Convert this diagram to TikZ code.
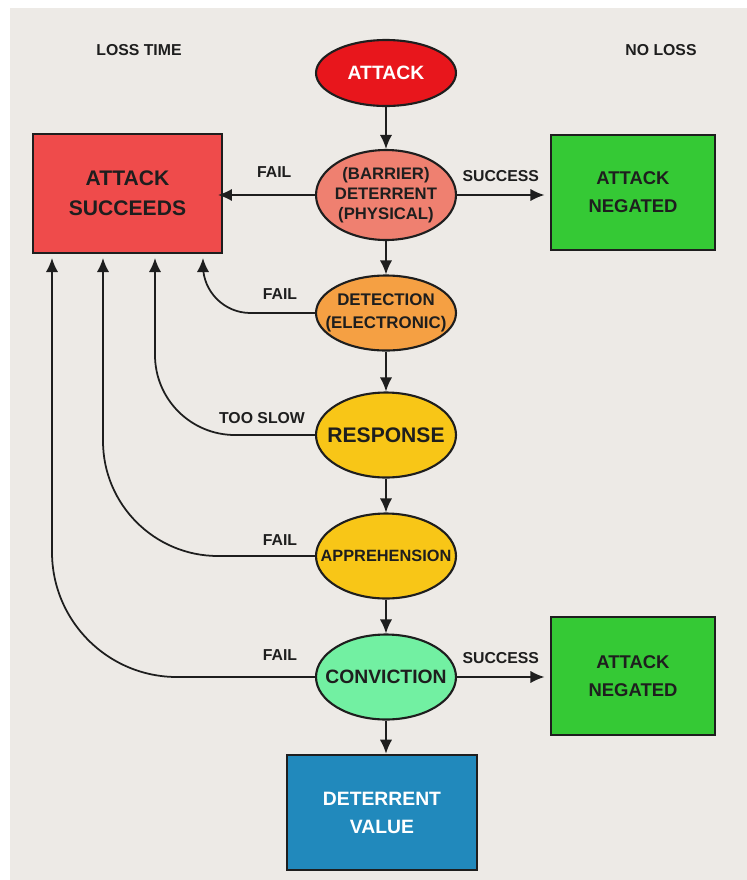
\documentclass[tikz,border=0pt]{standalone}
\usepackage{fontspec}
\setmainfont{Liberation Sans}
\usepackage{xcolor}
\usetikzlibrary{shapes.geometric, arrows.meta, positioning}

\definecolor{bggray}{HTML}{EDEAE6}
\definecolor{attackred}{HTML}{E8161C}
\definecolor{succred}{HTML}{EF4B4B}
\definecolor{barrier}{HTML}{EF8070}
\definecolor{detect}{HTML}{F5A043}
\definecolor{gold}{HTML}{F8C617}
\definecolor{mint}{HTML}{72F0A2}
\definecolor{negated}{HTML}{35C935}
\definecolor{deterblue}{HTML}{2189BC}
\definecolor{ink}{HTML}{1E1E1E}

\begin{document}
\begin{tikzpicture}[
            x=0.02cm, y=-0.02cm,
            stage/.style={ellipse, draw=ink, line width=1.2pt, minimum width=2.8cm,
                minimum height=1.7cm, inner sep=-1cm, align=center, text=ink,
                font=\bfseries},
            outcome/.style={rectangle, draw=ink, line width=1.4pt, align=center,
                text=ink, font=\bfseries},
            flow/.style={-{Latex[length=8pt, width=7pt]}, line width=1pt, draw=ink},
            side/.style={font=\bfseries\fontsize{9}{10}\selectfont, text=ink}
        ]

        % background and margins
        \fill[white] (0,0) rectangle (747,880);
        \fill[bggray] (10,8) rectangle (747,880);
        \useasboundingbox (0,0) rectangle (747,880);

        % headings
        \node[side] (losstime) at (139,50) {LOSS TIME};
        \node[side] (noloss) at (661,50) {NO LOSS};

        % stages (manual layout)
        \node[stage, fill=attackred, text=white, minimum height=1.32cm,
            font=\bfseries\fontsize{11}{12}\selectfont] (attack) at (386,73) {ATTACK};
        \node[stage, fill=barrier, font=\bfseries\fontsize{9.5}{11.5}\selectfont,
            minimum height=1.8cm] (barrier) at (386,195)
            {(BARRIER)\\DETERRENT\\(PHYSICAL)};
        \node[stage, fill=detect, minimum height=1.5cm,
            font=\bfseries\fontsize{9.6}{13}\selectfont] (detection) at (386,313)
            {DETECTION\\(ELECTRONIC)};
        \node[stage, fill=gold, font=\bfseries\fontsize{12}{14}\selectfont]
            (response) at (386,435) {RESPONSE};
        \node[stage, fill=gold, font=\bfseries\fontsize{9.3}{11}\selectfont]
            (apprehension) at (386,556) {APPREHENSION};
        \node[stage, fill=mint, font=\bfseries\fontsize{11}{13}\selectfont]
            (conviction) at (386,677) {CONVICTION};

        % outcomes
        \node[outcome, fill=succred, minimum width=3.78cm, minimum height=2.38cm,
            font=\bfseries\fontsize{12}{17}\selectfont] (succeeds) at (127.5,193.5)
            {ATTACK\\SUCCEEDS};
        \node[outcome, fill=negated, minimum width=3.28cm, minimum height=2.3cm,
            font=\bfseries\fontsize{10.5}{16}\selectfont] (negtop) at (633,192.5)
            {ATTACK\\NEGATED};
        \node[outcome, fill=negated, minimum width=3.28cm, minimum height=2.36cm,
            font=\bfseries\fontsize{10.5}{16}\selectfont] (negbot) at (633,676)
            {ATTACK\\NEGATED};
        \node[outcome, fill=deterblue, text=white, minimum width=3.8cm,
            minimum height=2.3cm, font=\bfseries\fontsize{11}{16}\selectfont]
            (detervalue) at (382,812.5) {DETERRENT\\VALUE};

        % free ends under the red box
        \coordinate (in1) at (203,258);
        \coordinate (in2) at (155,258);
        \coordinate (in3) at (103,258);
        \coordinate (in4) at (52,258);

        % main chain
        \draw[flow] (attack) -- (barrier);
        \draw[flow] (barrier) -- (detection);
        \draw[flow] (detection) -- (response);
        \draw[flow] (response) -- (apprehension);
        \draw[flow] (apprehension) -- (conviction);
        \draw[flow] (conviction.south) -- (conviction.south |- detervalue.north);

        % success / fail branches
        \draw[flow] (barrier.east) -- node[side, above=4pt, pos=0.5] {SUCCESS}
            ([xshift=-3pt]negtop.west |- barrier.east);
        \draw[flow] (conviction.east) -- node[side, above=4pt, pos=0.5] {SUCCESS}
            ([xshift=-3pt]negbot.west |- conviction.east);
        \draw[flow] (barrier.west) -- node[side, above=6pt, pos=0.42] {FAIL}
            ([xshift=-3pt]succeeds.east |- barrier.west);

        \draw[flow, rounded corners=0.95cm] (detection.west) -| (in1);
        \draw[flow, rounded corners=1.6cm] (response.west) -| (in2);
        \draw[flow, rounded corners=2.3cm] (apprehension.west) -| (in3);
        \draw[flow, rounded corners=2.5cm] (conviction.west) -| (in4);

        % branch labels
        \node[side] (fail2) at (280,294) {FAIL};
        \node[side] (tooslow) at (262,418) {TOO SLOW};
        \node[side] (fail3) at (280,540) {FAIL};
        \node[side] (fail4) at (280,655) {FAIL};

    \end{tikzpicture}
\end{document}
